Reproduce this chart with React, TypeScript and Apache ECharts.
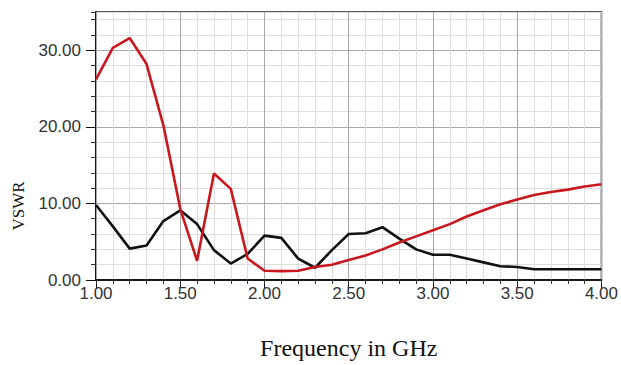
import React, { useEffect, useRef } from "react";
import * as echarts from "echarts";

const frequencies = [
  1.0, 1.1, 1.2, 1.3, 1.4, 1.5, 1.6, 1.7, 1.8, 1.9, 2.0, 2.1, 2.2, 2.3, 2.4, 2.5,
  2.6, 2.7, 2.8, 2.9, 3.0, 3.1, 3.2, 3.3, 3.4, 3.5, 3.6, 3.7, 3.8, 3.9, 4.0,
];
const redVswr = [
  26.2, 30.3, 31.6, 28.2, 20.2, 9.3, 2.5, 13.9, 11.9, 2.8, 1.2, 1.16, 1.2, 1.7, 2.0, 2.6,
  3.2, 4.0, 4.9, 5.7, 6.5, 7.3, 8.3, 9.1, 9.9, 10.5, 11.1, 11.5, 11.8, 12.2, 12.5,
];
const blackVswr = [
  9.8, 7.0, 4.1, 4.5, 7.7, 9.1, 7.3, 3.9, 2.15, 3.4, 5.8, 5.5, 2.8, 1.6, 3.9, 6.0,
  6.1, 6.9, 5.4, 4.0, 3.3, 3.3, 2.8, 2.3, 1.8, 1.7, 1.4, 1.4, 1.4, 1.4, 1.4,
];
const xTitle = "Frequency in GHz";
const yTitle = "VSWR";

const SANS = "'Liberation Sans', Arial, sans-serif";
const SERIF = "'Liberation Serif', 'Times New Roman', serif";
const MAJOR = "#a8a8a8";
const MINOR = "#dedede";

export default function App() {
  const ref = useRef<HTMLDivElement>(null);
  useEffect(() => {
    if (!ref.current) return;
    const chart = echarts.init(ref.current, undefined, { renderer: "svg" });
    const toPairs = (ys: number[]) => frequencies.map((f, i) => [f, ys[i]]);
    chart.setOption({
      animation: false,
      backgroundColor: "#ffffff",
      grid: {
        left: 96,
        top: 12,
        right: 17,
        bottom: 83,
        show: true,
        borderColor: "#222",
        borderWidth: 1.5,
        backgroundColor: "transparent",
      },
      graphic: [
        {
          type: "text",
          x: 18,
          y: 206,
          rotation: Math.PI / 2,
          style: {
            text: yTitle,
            fontFamily: SERIF,
            fontSize: 17,
            fill: "#111",
            align: "center",
            verticalAlign: "middle",
          },
        },
      ],
      xAxis: [
        {
          type: "value",
          min: 1,
          max: 4,
          interval: 0.1,
          axisLine: { show: true, lineStyle: { color: "#111", width: 1.5 } },
          axisTick: { show: true, length: 4, lineStyle: { color: "#333" } },
          axisLabel: { show: false },
          splitLine: {
            show: true,
            lineStyle: { color: [MAJOR, MINOR, MINOR, MINOR, MINOR], width: 1 },
          },
          z: 1,
        },
        {
          type: "value",
          min: 1,
          max: 4,
          interval: 0.5,
          position: "bottom",
          axisLine: { show: true, lineStyle: { color: "#111", width: 1.5 } },
          axisTick: { show: true, length: 8, lineStyle: { color: "#111" } },
          axisLabel: {
            show: true,
            margin: 5,
            color: "#333",
            fontFamily: SANS,
            fontSize: 17,
            formatter: (v: number) => v.toFixed(2),
          },
          splitLine: { show: false },
          name: xTitle,
          nameLocation: "middle",
          nameGap: 56,
          nameTextStyle: { fontFamily: SERIF, fontSize: 24, color: "#111" },
        },
      ],
      yAxis: [
        {
          type: "value",
          min: 0,
          max: 35,
          interval: 2,
          axisLine: { show: true, lineStyle: { color: "#111", width: 1.5 } },
          axisTick: { show: true, length: 5, lineStyle: { color: "#333" } },
          axisLabel: { show: false },
          splitLine: {
            show: true,
            lineStyle: { color: [MAJOR, MINOR, MINOR, MINOR, MINOR], width: 1 },
          },
        },
        {
          type: "value",
          min: 0,
          max: 35,
          interval: 10,
          position: "left",
          axisLine: { show: true, lineStyle: { color: "#111", width: 1.5 } },
          axisTick: { show: true, length: 10, lineStyle: { color: "#111" } },
          axisLabel: {
            show: true,
            margin: 15,
            color: "#333",
            fontFamily: SANS,
            fontSize: 17,
            showMaxLabel: false,
            formatter: (v: number) => (v % 10 === 0 ? v.toFixed(2) : ""),
          },
          splitLine: { show: false },
        },
      ],
      series: [
        {
          type: "line",
          data: toPairs(blackVswr),
          xAxisIndex: 0,
          yAxisIndex: 0,
          showSymbol: false,
          lineStyle: { color: "#111111", width: 2.6 },
          z: 3,
        },
        {
          type: "line",
          data: toPairs(redVswr),
          xAxisIndex: 0,
          yAxisIndex: 0,
          showSymbol: false,
          lineStyle: { color: "#c8171e", width: 2.6 },
          z: 4,
        },
      ],
    });
    return () => chart.dispose();
  }, []);
  return (
    <div
      ref={ref}
      style={{ position: "fixed", left: 0, top: 0, width: 621, height: 365, background: "#fff" }}
    />
  );
}
